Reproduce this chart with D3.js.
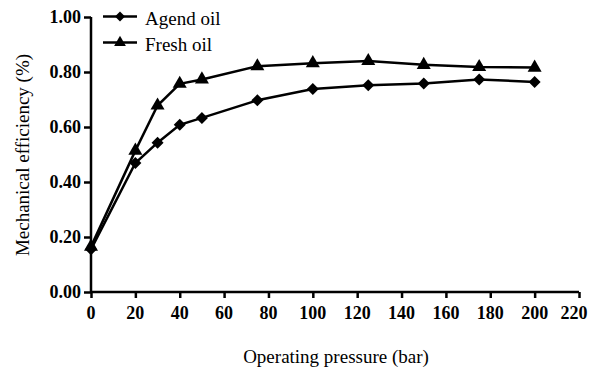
<!DOCTYPE html>
<html>
<head>
<meta charset="utf-8">
<script src="https://cdn.jsdelivr.net/npm/d3@7"></script>
<style>
  body { margin: 0; background: #fff; font-family: 'Liberation Serif'; }
  #chart { position: relative; width: 590px; height: 369px; }
  #chart svg { position: absolute; left: 0; top: 0; }
  .label {
    position: absolute;
    line-height: 1;
    white-space: nowrap;
    color: #000;
  }
  .tick-label { font-size: 18px; font-weight: bold; }
  .title { font-size: 19px; }
</style>
</head>
<body>
<div id="chart"></div>
<script>
// Data
const pressure = [0, 20, 30, 40, 50, 75, 100, 125, 150, 175, 200];
const agedOil = [0.155, 0.469, 0.543, 0.608, 0.633, 0.697, 0.738, 0.752, 0.758, 0.773, 0.764];
const freshOil = [0.165, 0.514, 0.678, 0.757, 0.773, 0.821, 0.832, 0.840, 0.826, 0.818, 0.816];
const xTicks = [0, 20, 40, 60, 80, 100, 120, 140, 160, 180, 200, 220];
const yTicks = [0, 0.2, 0.4, 0.6, 0.8, 1.0];

const font = 'Liberation Serif';

const width = 590;
const height = 369;
const margin = { top: 17, right: 11, bottom: 77, left: 91 };

const chart = d3.select('#chart');

const svg = chart
    .append('svg')
    .attr('width', width)
    .attr('height', height);

const xScale = d3.scaleLinear()
    .domain([0, 220])
    .range([margin.left, width - margin.right]);

const yScale = d3.scaleLinear()
    .domain([0, 1])
    .range([height - margin.bottom, margin.top]);

// Axes: lines and ticks in svg, labels as html text
const xAxis = d3.axisBottom(xScale)
    .tickValues(xTicks)
    .tickSize(6)
    .tickFormat('');

const yAxis = d3.axisLeft(yScale)
    .tickValues(yTicks)
    .tickSize(7)
    .tickFormat('');

const gx = svg.append('g')
    .attr('transform', `translate(0, ${yScale(0)})`)
    .call(xAxis);

const gy = svg.append('g')
    .attr('transform', `translate(${xScale(0)}, 0)`)
    .call(yAxis);

[gx, gy].forEach((g) => {
    g.select('.domain').attr('stroke', '#000').attr('stroke-width', 2.5);
    g.selectAll('.tick line').attr('stroke', '#000').attr('stroke-width', 2.5);
});
gy.select('.domain').attr('d', `M0,${yScale(0)}V${yScale(1)}`);
gx.select('.domain').attr('d', `M${xScale(0)},0H${xScale(220)}`);

chart.selectAll('.xtick')
    .data(xTicks)
    .join('div')
    .attr('class', 'label tick-label xtick')
    .style('font-family', font)
    .style('left', (d) => `${xScale(d) - (d === 220 ? 5 : 0)}px`)
    .style('top', `${yScale(0) + 21}px`)
    .style('transform', 'translate(-50%, -50%)')
    .text((d) => d3.format('d')(d));

chart.selectAll('.ytick')
    .data(yTicks)
    .join('div')
    .attr('class', 'label tick-label ytick')
    .style('font-family', font)
    .style('left', `${xScale(0) - 10}px`)
    .style('top', (d) => `${yScale(d)}px`)
    .style('transform', 'translate(-100%, -50%)')
    .text((d) => d3.format('.2f')(d));

// Axis titles
chart.append('div')
    .attr('class', 'label title')
    .style('font-family', font)
    .style('left', '336px')
    .style('top', '356px')
    .style('transform', 'translate(-50%, -50%)')
    .text('Operating pressure (bar)');

chart.append('div')
    .attr('class', 'label title')
    .style('font-family', font)
    .style('left', '22px')
    .style('top', '155px')
    .style('transform', 'translate(-50%, -50%) rotate(-90deg)')
    .text('Mechanical efficiency (%)');

// Lines
const line = (values) => d3.line()
    .x((d, i) => xScale(pressure[i]))
    .y((d) => yScale(d))(values);

const diamond = (size) => d3.symbol().type(d3.symbolSquare).size(size);
const triangle = (size) => d3.symbol().type(d3.symbolTriangle).size(size);

const series = [
    { name: 'Agend oil', values: agedOil, shape: diamond, rot: 45, size: 72, legendSize: 50 },
    { name: 'Fresh oil', values: freshOil, shape: triangle, rot: 0, size: 85, legendSize: 60 },
];

series.forEach((s) => {
    svg.append('path')
        .attr('d', line(s.values))
        .attr('fill', 'none')
        .attr('stroke', '#000')
        .attr('stroke-width', 2.5);

    svg.append('g')
        .selectAll('path')
        .data(s.values)
        .join('path')
        .attr('transform', (d, i) => `translate(${xScale(pressure[i])}, ${yScale(d)}) rotate(${s.rot})`)
        .attr('d', s.shape(s.size))
        .attr('fill', '#000');
});

// Legend
series.forEach((s, i) => {
    const y = 16.5 + i * 26;
    svg.append('line')
        .attr('x1', 103).attr('x2', 137)
        .attr('y1', y).attr('y2', y)
        .attr('stroke', '#000')
        .attr('stroke-width', 2.5);
    svg.append('path')
        .attr('transform', `translate(120, ${y}) rotate(${s.rot})`)
        .attr('d', s.shape(s.legendSize))
        .attr('fill', '#000');
    chart.append('div')
        .attr('class', 'label title')
        .style('font-family', font)
        .style('left', '145px')
        .style('top', `${y + 1.5}px`)
        .style('transform', 'translate(0, -50%)')
        .text(s.name);
});
</script>
</body>
</html>
